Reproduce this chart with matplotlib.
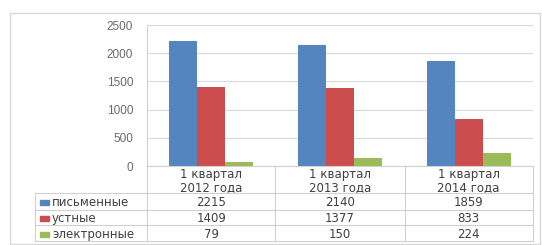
import matplotlib
matplotlib.use('Agg')
import matplotlib.pyplot as plt
from matplotlib.lines import Line2D
from matplotlib.patches import Rectangle
import matplotlib.transforms as mtransforms

plt.rcParams['font.family'] = ['Liberation Sans', 'DejaVu Sans']

# данные
categories = ['1 квартал\n2012 года', '1 квартал\n2013 года', '1 квартал\n2014 года']
series_names = ['письменные', 'устные', 'электронные']
pismennye = [2215, 2140, 1859]
ustnye = [1409, 1377, 833]
elektronnye = [79, 150, 224]
colors = ['#5585C0', '#CC4D4D', '#9BBB59']
yticks = [0, 500, 1000, 1500, 2000, 2500]

W, H = 542, 245
fig = plt.figure(figsize=(W / 100, H / 100), dpi=100)

def fx(px):
    return px / W

def fy(py):
    return 1 - py / H

# область графика (в пикселях): слева 147, справа 533, верх 25, ноль 166
ax = fig.add_axes([fx(147), fy(166), fx(533) - fx(147), fy(25) - fy(166)])

series = [pismennye, ustnye, elektronnye]
x = range(len(categories))
bw = 0.218
for i, vals in enumerate(series):
    ax.bar([xi + (i - 1) * bw for xi in x], vals, bw, color=colors[i], zorder=3)

ax.set_xlim(-0.5, len(categories) - 0.5)
ax.set_ylim(0, 2500)
ax.set_yticks(yticks)
ax.set_xticks([])
ax.tick_params(axis='y', length=0, labelsize=8.5, labelcolor='#6a6a6a', pad=10)
ax.grid(axis='y', color='#d9d9d9', linewidth=0.8, zorder=0)
for s in ['top', 'right', 'bottom']:
    ax.spines[s].set_visible(False)
ax.spines['left'].set_color('#d0d0d0')

# таблица под графиком
gc = '#d0d0d0'
tc = '#404040'
tfont = ['DejaVu Sans']
row_lines = [166, 193, 210, 225, 241]
col_lines = [147, 275, 405, 533]

def hline(y, x0, x1):
    fig.add_artist(Line2D([fx(x0), fx(x1)], [fy(y), fy(y)], color=gc, lw=0.8))

def vline(x0, y0, y1):
    fig.add_artist(Line2D([fx(x0), fx(x0)], [fy(y0), fy(y1)], color=gc, lw=0.8))

hline(166, 147, 533)
for y in row_lines[1:]:
    hline(y, 35, 533)
for xc in col_lines:
    vline(xc, 166, 241)
vline(35, 193, 241)

# внешняя рамка
fig.add_artist(Rectangle((fx(10), fy(244)), fx(540) - fx(10), fy(13) - fy(244),
                         fill=False, edgecolor='#d8d8d8', lw=1))

trans = mtransforms.blended_transform_factory(ax.transData, fig.transFigure)
for i, cat in enumerate(categories):
    ax.text(i, fy(181), cat, transform=trans, ha='center', va='center',
            fontsize=8.5, color=tc, linespacing=0.95, family=tfont)
    for r, vals in enumerate(series):
        yc = (row_lines[r + 1] + row_lines[r + 2]) / 2 + 1
        ax.text(i, fy(yc), str(vals[i]), transform=trans, ha='center', va='center',
                fontsize=8.5, color=tc, family=tfont)

for r, name in enumerate(series_names):
    yc = (row_lines[r + 1] + row_lines[r + 2]) / 2 + 1
    fig.add_artist(Rectangle((fx(40), fy(yc + 2.5)), fx(9), 5 / H, color=colors[r]))
    fig.text(fx(52), fy(yc), name, ha='left', va='center', fontsize=8.5, color=tc,
             family=tfont)

fig.savefig('out.png', dpi=100)
